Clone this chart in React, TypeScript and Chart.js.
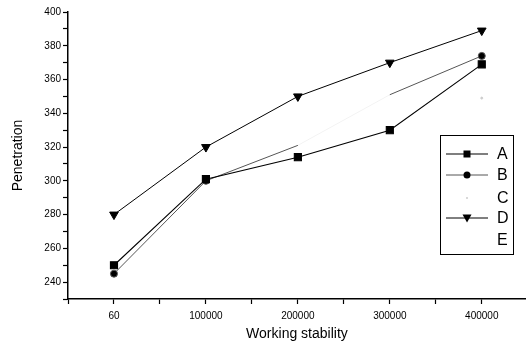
import React, { useEffect, useRef } from "react";
import { Chart, registerables } from "chart.js";

Chart.register(...registerables);

const categories = ["60", "100000", "200000", "300000", "400000"];
const seriesA = [250, 301, 314, 330, 369];
const seriesB = [245, 300, 321, 351, 374];
const seriesC: (number | null)[] = [null, null, null, null, 349];
const seriesD = [280, 320, 350, 370, 389];
const seriesE: (number | null)[] = [null, null, null, null, null];
const yTickLabels = [240, 260, 280, 300, 320, 340, 360, 380, 400];
const legendNames = ["A", "B", "C", "D", "E"];

const toPoints = (arr: (number | null)[]) => arr.map((v, i) => ({ x: i, y: v }));

const FONT = "'Liberation Sans', Arial, sans-serif";

function drawMarker(ctx: CanvasRenderingContext2D, kind: string, x: number, y: number, color: string) {
  ctx.save();
  ctx.fillStyle = color;
  ctx.beginPath();
  if (kind === "rect") {
    ctx.rect(x - 3.5, y - 3.5, 7, 7);
  } else if (kind === "circle") {
    ctx.arc(x, y, 3.5, 0, Math.PI * 2);
  } else if (kind === "tri") {
    ctx.moveTo(x - 4.5, y - 3.5);
    ctx.lineTo(x + 4.5, y - 3.5);
    ctx.lineTo(x, y + 4.5);
    ctx.closePath();
  } else if (kind === "dot") {
    ctx.arc(x, y, 1, 0, Math.PI * 2);
  }
  ctx.fill();
  ctx.restore();
}

const legendPlugin = {
  id: "boxLegend",
  afterDraw(chart: any) {
    const ctx: CanvasRenderingContext2D = chart.ctx;
    const left = 440.5, top = 135.5, w = 73, h = 119;
    ctx.save();
    ctx.strokeStyle = "#000";
    ctx.lineWidth = 1;
    ctx.strokeRect(left, top, w, h);
    const rows = [154, 175, 198, 218, 240];
    const styles = [
      { line: "#000", lw: 1.1, marker: "rect", mc: "#000" },
      { line: "#555", lw: 1, marker: "circle", mc: "#000" },
      { line: null, lw: 0, marker: "dot", mc: "#ccc" },
      { line: "#000", lw: 1, marker: "tri", mc: "#000" },
      { line: null, lw: 0, marker: null, mc: "" },
    ];
    legendNames.forEach((name, i) => {
      const y = rows[i];
      const s = styles[i];
      if (s.line) {
        ctx.strokeStyle = s.line;
        ctx.lineWidth = s.lw;
        ctx.beginPath();
        ctx.moveTo(446, y);
        ctx.lineTo(488, y);
        ctx.stroke();
      }
      if (s.marker) drawMarker(ctx, s.marker, 467, y, s.mc);
      ctx.fillStyle = "#000";
      ctx.font = `16px ${FONT}`;
      ctx.textBaseline = "middle";
      ctx.textAlign = "left";
      ctx.fillText(name, 497, y + 1);
    });
    ctx.restore();
  },
};

export default function App() {
  const ref = useRef<HTMLCanvasElement | null>(null);

  useEffect(() => {
    if (!ref.current) return;
    const chart = new Chart(ref.current, {
      type: "line",
      data: {
        datasets: [
          {
            label: legendNames[0],
            data: toPoints(seriesA),
            borderColor: "#000",
            backgroundColor: "#000",
            borderWidth: 1.1,
            pointStyle: "rect",
            pointRadius: 5,
            tension: 0,
          },
          {
            label: legendNames[1],
            data: toPoints(seriesB),
            borderColor: "#555",
            backgroundColor: "#000",
            borderWidth: 1,
            pointStyle: "circle",
            pointRadius: [3.5, 3.5, 0, 0, 3.5],
            segment: {
              borderColor: (c: any) => (c.p0DataIndex === 2 ? "rgba(0,0,0,0.05)" : undefined),
            },
            tension: 0,
          },
          {
            label: legendNames[2],
            data: toPoints(seriesC),
            borderColor: "#ccc",
            backgroundColor: "#ccc",
            borderWidth: 1,
            pointRadius: 1,
            showLine: false,
          },
          {
            label: legendNames[3],
            data: toPoints(seriesD),
            borderColor: "#000",
            backgroundColor: "#000",
            borderWidth: 1,
            pointStyle: "triangle",
            pointRotation: 180,
            pointRadius: 5,
            tension: 0,
          },
          {
            label: legendNames[4],
            data: toPoints(seriesE),
            borderColor: "#eee",
            backgroundColor: "#eee",
            borderWidth: 1,
            pointRadius: 0,
          },
        ],
      },
      options: {
        responsive: false,
        animation: false,
        layout: { padding: { top: 12, right: 0, left: 0, bottom: 0 } },
        plugins: {
          legend: { display: false },
          tooltip: { enabled: false },
        },
        scales: {
          x: {
            type: "linear",
            min: -0.5,
            max: 4.48,
            afterBuildTicks: (scale: any) => {
              const t = [];
              for (let i = -1; i <= 8; i++) t.push({ value: i / 2 });
              scale.ticks = t;
            },
            afterFit: (scale: any) => {
              scale.height = 50;
            },
            border: { display: true, color: "#000", width: 1.5 },
            grid: { drawOnChartArea: false, tickLength: 5, color: "#000", tickWidth: 1.2 },
            ticks: {
              color: "#000",
              padding: 6,
              maxRotation: 0,
              autoSkip: false,
              font: { family: FONT, size: 10 },
              callback: (v: any) => (Number.isInteger(v) && v >= 0 && v < categories.length ? categories[v] : ""),
            },
            title: {
              display: true,
              text: "Working stability",
              color: "#000",
              font: { family: FONT, size: 14 },
              padding: { top: 0, bottom: 6 },
            },
          },
          y: {
            type: "linear",
            min: 230,
            max: 400,
            afterFit: (scale: any) => {
              scale.width = 68;
            },
            border: { display: true, color: "#000", width: 1.5 },
            grid: { drawOnChartArea: false, tickLength: 5, color: "#000", tickWidth: 1.2 },
            ticks: {
              stepSize: 10,
              color: "#000",
              padding: 2,
              autoSkip: false,
              font: { family: FONT, size: 10 },
              callback: (v: any) => (yTickLabels.includes(v) ? String(v) : ""),
            },
            title: {
              display: true,
              text: "Penetration",
              color: "#000",
              font: { family: FONT, size: 14 },
              padding: { top: 10, bottom: 0 },
            },
          },
        },
      },
      plugins: [legendPlugin],
    } as any);
    return () => chart.destroy();
  }, []);

  return (
    <div style={{ position: "absolute", left: 0, top: 0, width: 532, height: 349, background: "#fff" }}>
      <canvas ref={ref} width={532} height={349} style={{ display: "block" }} />
    </div>
  );
}
